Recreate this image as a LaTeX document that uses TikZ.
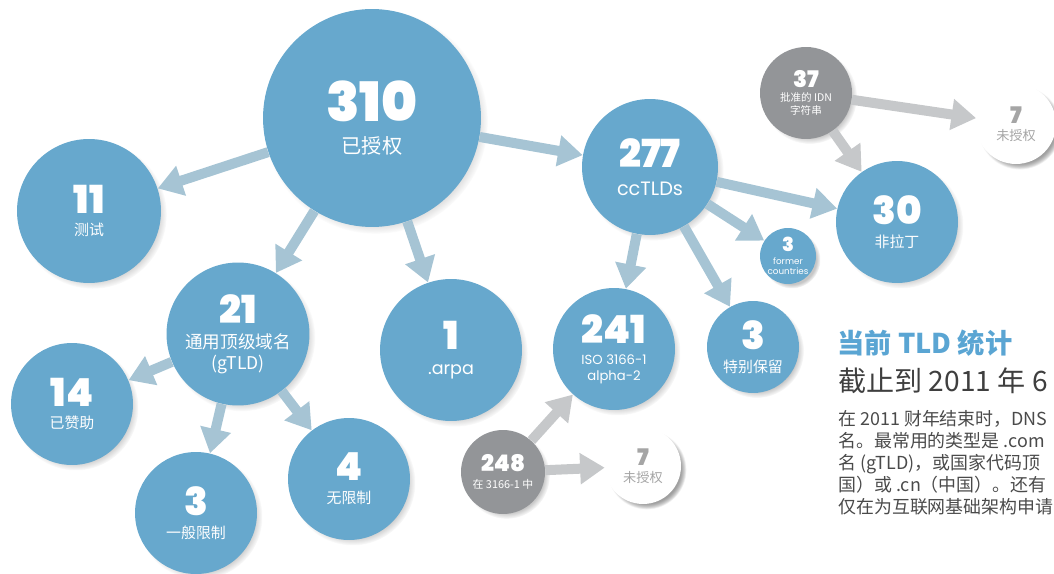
\documentclass[tikz,border=0pt]{standalone}
\usepackage{fontspec}
\usetikzlibrary{arrows.meta,shadows}
\setmainfont{Noto Sans CJK SC}
\newfontfamily\numfont{Poppins Black}
\newfontfamily\latinfont{Poppins}
\definecolor{bubbleblue}{HTML}{67A8CD}
\definecolor{linkblue}{HTML}{A6C4D4}
\definecolor{bubblegrey}{HTML}{939598}
\definecolor{linkgrey}{HTML}{C6C8CA}
\definecolor{pendinggrey}{HTML}{A5A5A5}
\definecolor{titleblue}{HTML}{5AA5D3}
\definecolor{bodygrey}{HTML}{4A4A4A}
\newcommand{\numtext}[2]{{\numfont\fontsize{#1}{#1}\selectfont #2}}
\tikzset{
  bubble/.style={circle,fill=bubbleblue,text=white,inner sep=0pt,align=center,minimum size=#1,
    circular drop shadow={shadow xshift=2pt,shadow yshift=-2pt,shadow scale=1.03,opacity=.45}},
  greybubble/.style={bubble=#1,fill=bubblegrey},
  whitebubble/.style={bubble=#1,fill=white,text=pendinggrey,
    circular drop shadow={shadow xshift=2pt,shadow yshift=-2pt,shadow scale=1.05,opacity=.55}},
  link/.style={draw=linkblue,line width=5.7pt,-{Triangle[length=14pt,width=17pt]}},
  greylink/.style={link,draw=linkgrey},
}
\begin{document}
\begin{tikzpicture}[x=0.02cm,y=-0.02cm]
    \clip (0,0) rectangle (1054,574);
    \node[bubble=4.36cm,font=\fontsize{11.5}{13}\selectfont] (auth) at (372,118) {\numtext{31}{310}\\[5pt]已授权};
    \node[bubble=2.88cm,font=\fontsize{8.5}{10}\selectfont] (test) at (89,211) {\numtext{22}{11}\\[3pt]测试};
    \node[bubble=2.86cm,font=\fontsize{10}{11.5}\selectfont] (gtld) at (238,334) {\numtext{22}{21}\\[3pt]通用顶级域名\\(gTLD)};
    \node[bubble=2.44cm,font=\fontsize{8.5}{10}\selectfont] (sponsored) at (72,404) {\numtext{22}{14}\\[3pt]已赞助};
    \node[bubble=2.44cm,font=\fontsize{8.5}{10}\selectfont] (general) at (196,513) {\numtext{22}{3}\\[3pt]一般限制};
    \node[bubble=2.44cm,font=\fontsize{8.5}{10}\selectfont] (unrestricted) at (349,479) {\numtext{22}{4}\\[3pt]无限制};
    \node[bubble=2.84cm,font=\latinfont\fontsize{10}{11.5}\selectfont] (arpa) at (451,350) {\numtext{22}{1}\\[3pt].arpa};
    \node[bubble=2.72cm,font=\latinfont\fontsize{11}{13}\selectfont] (cctld) at (650,167) {\numtext{22}{277}\\[3pt]ccTLDs};
    \node[bubble=2.44cm,font=\latinfont\fontsize{7.5}{9}\selectfont] (iso) at (614,349) {\numtext{22}{241}\\[3pt]ISO 3166-1\\alpha-2};
    \node[bubble=1.84cm,font=\fontsize{8.5}{10}\selectfont] (reserved) at (753,347) {\numtext{22}{3}\\[3pt]特别保留};
    \node[bubble=1.12cm,font=\latinfont\fontsize{5}{6}\selectfont] (former) at (788,256) {\numtext{11}{3}\\[1pt]former\\countries};
    \node[bubble=2.44cm,font=\fontsize{8.5}{10}\selectfont] (nonlatin) at (897,222) {\numtext{22}{30}\\[3pt]非拉丁};
    \node[greybubble=1.84cm,font=\fontsize{6}{7}\selectfont] (idn) at (806,93) {\numtext{13}{37}\\[1pt]批准的 IDN\\字符串};
    \node[whitebubble=1.6cm,font=\fontsize{7.5}{9}\selectfont] (idnpending) at (1016,124) {\numtext{13}{7}\\[1pt]未授权};
    \node[greybubble=1.68cm,font=\fontsize{6.2}{7.5}\selectfont] (listed) at (503,472) {\numtext{13}{248}\\[2pt]在 3166-1 中};
    \node[whitebubble=1.52cm,font=\fontsize{7.5}{9}\selectfont] (isopending) at (643,466) {\numtext{13}{7}\\[1pt]未授权};
    \draw[link] (auth) -- (cctld);
    \draw[link] (auth) -- (test);
    \draw[link] (auth) -- (gtld);
    \draw[link] (auth) -- (arpa);
    \draw[link] (gtld) -- (sponsored);
    \draw[link] (gtld) -- (general);
    \draw[link] (gtld) -- (unrestricted);
    \draw[link] (cctld) -- (iso);
    \draw[link] (cctld) -- (reserved);
    \draw[link] (cctld) -- (former);
    \draw[link] (cctld) -- (nonlatin);
    \draw[greylink] (idn) -- (idnpending);
    \draw[greylink] (idn) -- (nonlatin);
    \draw[greylink] (listed) -- (iso);
    \draw[greylink] (listed) -- (isopending);
    \node[anchor=base west,text=titleblue,font=\bfseries\fontsize{15.5}{17}\selectfont,inner sep=0pt] (title) at (837,353) {当前 TLD 统计};
    \node[anchor=base west,text=bodygrey!85!black,font=\fontsize{16}{19}\selectfont,inner sep=0pt] (subtitle) at (838,391) {截止到 2011 年 6 月};
    \node[anchor=north west,text=bodygrey,font=\fontsize{10.2}{12.5}\selectfont,align=left,inner sep=0pt] (body) at (838,410) {在 2011 财年结束时，DNS\\名。最常用的类型是 .com\\名 (gTLD)，或国家代码顶\\国）或 .cn（中国）。还有\\仅在为互联网基础架构申请};
\end{tikzpicture}
\end{document}
